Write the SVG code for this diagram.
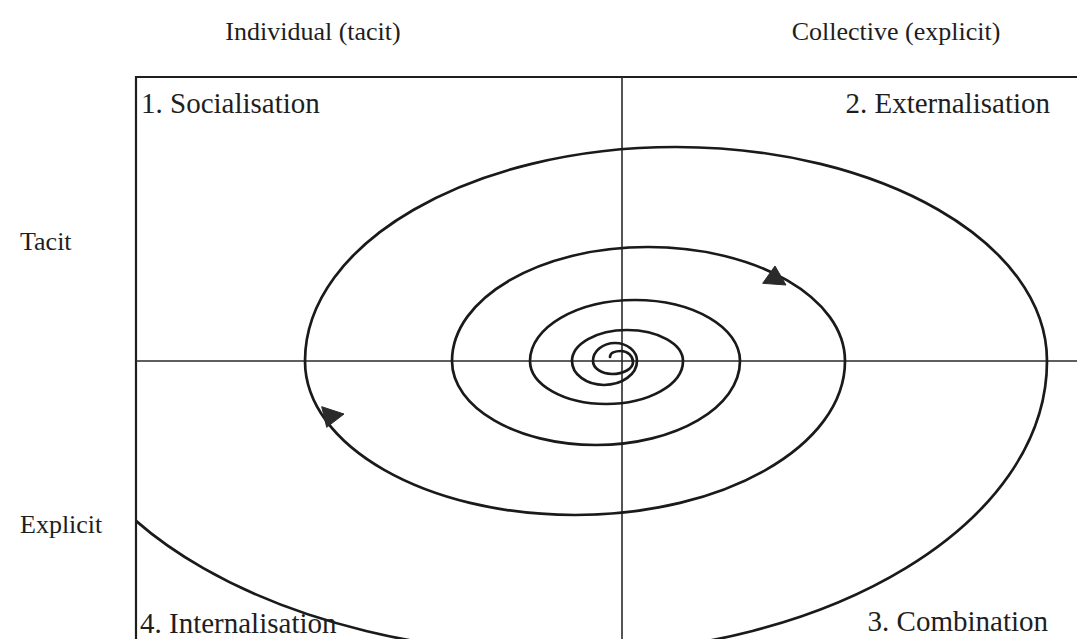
<svg xmlns="http://www.w3.org/2000/svg" width="1077" height="639" viewBox="0 0 1077 639">
  <style>
    .lbl { font-family: "Liberation Serif", "Times New Roman", serif; font-size: 26px; fill: #1e1e1e; }
    .quad { font-size: 29px; }
    .frame { stroke: #1e1e1e; stroke-width: 2.2; fill: none; }
    .axis { stroke: #2a2a2a; stroke-width: 1.6; fill: none; }
    .spiral { stroke: #1a1a1a; stroke-width: 2.7; fill: none; stroke-linecap: round; }
    .head { fill: #2a2a2a; stroke: #2a2a2a; stroke-width: 1; stroke-linejoin: round; }
  </style>
  <defs>
    <clipPath id="inside">
      <rect x="136" y="77" width="941" height="562"/>
    </clipPath>
  </defs>
  <rect width="1077" height="639" fill="#ffffff"/>

  <!-- column and row headings -->
  <g id="headings">
    <text class="lbl" x="313" y="40" text-anchor="middle">Individual (tacit)</text>
    <text class="lbl" x="896" y="40" text-anchor="middle">Collective (explicit)</text>
    <text class="lbl" x="20" y="250">Tacit</text>
    <text class="lbl" x="20" y="533">Explicit</text>
  </g>

  <!-- outer frame and quadrant axes -->
  <g id="frame">
    <path class="frame" d="M136,639 V77 H1077"/>
    <path class="axis" d="M622,77 V639"/>
    <path class="axis" d="M136,361 H1077"/>
  </g>

  <!-- knowledge spiral, clockwise and widening from the centre -->
  <g id="connectors" clip-path="url(#inside)">
    <path class="spiral" d="M610,357
      C610,353 615,351 621,351
      C627.6,351 633,355.9 633,362
      C633,368.6 623.6,374 612,374
      C601.5,374 593,368.2 593,361
      C593,351.1 602.9,343 615,343
      C627.1,343 637,351.1 637,361
      C637,374.2 622.2,385 604,385
      C586.3,385 572,374.2 572,361
      C572,343.9 596.6,330 627,330
      C657.9,330 683,343.9 683,361
      C683,384.7 648.5,404 606,404
      C564,404 530,384.7 530,361
      C530,327.3 577,300 635,300
      C693,300 740,327.3 740,361
      C740,407.4 675.5,445 596,445
      C516.5,445 452,407.4 452,361
      C452,298.1 539.8,247 648,247
      C756.7,247 845,298.1 845,361
      C845,446 724,515 575,515
      C426,515 305,446 305,361
      C305,242.9 471.2,147 676,147
      C880.8,147 1047,242.9 1047,361
      C1047,522.7 831,654 565,654
      C283,654 53,522.7 53,361"/>
    <polygon id="arrow-left" class="head" points="321.7,406.7 326.7,427.3 344,414"/>
    <polygon id="arrow-right" class="head" points="775,266 762.7,283.3 786,285"/>
  </g>

  <!-- quadrant names -->
  <g id="q1"><text class="lbl quad" x="141" y="113">1. Socialisation</text></g>
  <g id="q2"><text class="lbl quad" x="1050" y="113" text-anchor="end">2. Externalisation</text></g>
  <g id="q3"><text class="lbl quad" x="1048" y="631" text-anchor="end">3. Combination</text></g>
  <g id="q4"><text class="lbl quad" x="140" y="633">4. Internalisation</text></g>
</svg>
